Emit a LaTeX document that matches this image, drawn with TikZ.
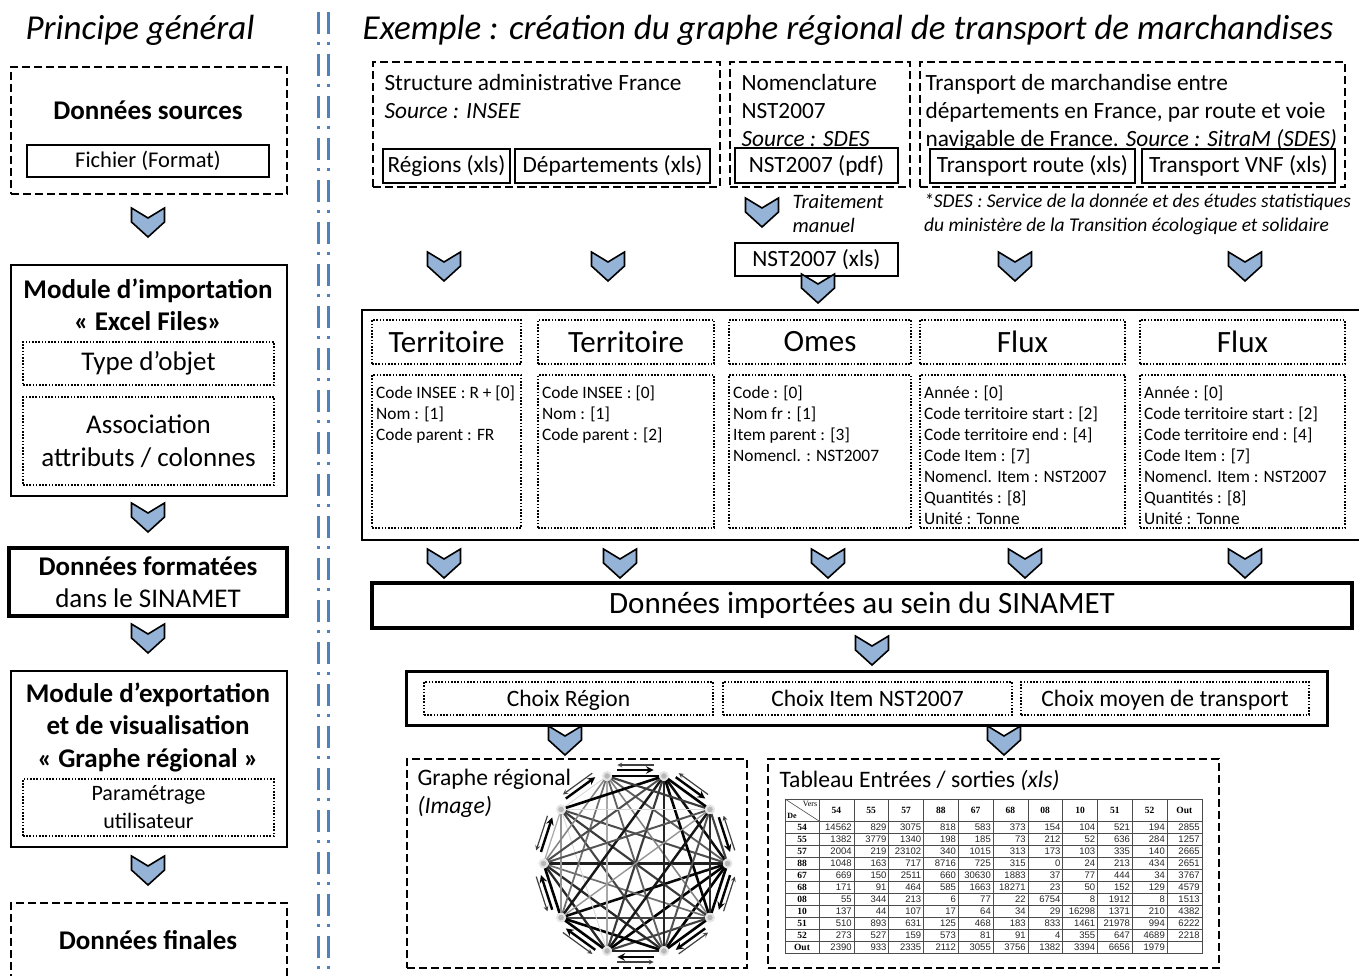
\documentclass[tikz,border=0pt]{standalone}
\usepackage{fontspec}
\setmainfont{Carlito}
\newfontfamily\tabsans{Liberation Sans}
\newfontfamily\tabserif{Liberation Serif}
\usetikzlibrary{fit,calc}
\definecolor{chevblue}{RGB}{149,179,215}
\definecolor{sepblue}{RGB}{79,129,189}
\newcommand{\fsz}[2]{\fontsize{#1}{#2}\selectfont}
\def\tabrows{{54,14562,829,3075,818,583,373,154,104,521,194,2855},
{55,1382,3779,1340,198,185,73,212,52,636,284,1257},
{57,2004,219,23102,340,1015,313,173,103,335,140,2665},
{88,1048,163,717,8716,725,315,0,24,213,434,2651},
{67,669,150,2511,660,30630,1883,37,77,444,34,3767},
{68,171,91,464,585,1663,18271,23,50,152,129,4579},
{08,55,344,213,6,77,22,6754,8,1912,8,1513},
{10,137,44,107,17,64,34,29,16298,1371,210,4382},
{51,510,893,631,125,468,183,833,1461,21978,994,6222},
{52,273,527,159,573,81,91,4,355,647,4689,2218},
{Out,2390,933,2335,2112,3055,3756,1382,3394,6656,1979}}
\tikzset{
  chev/.pic={\draw[fill=chevblue,line width=1.6pt,line join=miter]
    (-16.5,-14) -- (0,-4) -- (16.5,-14) -- (16.5,0) -- (0,15) -- (-16.5,0) -- cycle;},
  plainbox/.style={draw, line width=2.2pt, inner sep=0pt},
  thinbox/.style={draw, line width=1.6pt, inner sep=0pt},
  heavybox/.style={draw, line width=4pt, inner sep=0pt},
  dashbox/.style={draw, line width=2.6pt, dash pattern=on 8pt off 4pt, inner sep=0pt},
  dotbox/.style={draw, line width=2.4pt, dash pattern=on 1.6pt off 1.6pt, inner sep=0pt},
  sepline/.style={sepblue, line width=3pt, dash pattern=on 22pt off 8pt on 3pt off 9pt},
  bodytxt/.style={anchor=north west, align=left, font=\fsz{17.4}{21}, inner sep=2pt},
  tabline/.style={black!70, line width=0.6pt},
  tabhead/.style={font=\tabserif\bfseries\fsz{9.5}{11}, inner sep=0pt},
  tabnum/.style={font=\tabsans\fsz{9.5}{11}, text=black!85, inner sep=0pt, anchor=east},
  gnode/.style={circle, fill=black!28, draw=black!10, line width=2pt, minimum size=8pt, inner sep=0pt},
}
\begin{document}
\begin{tikzpicture}[x=1pt, y=-1pt]
\useasboundingbox (0,0) rectangle (1359,976);

% principe general
\node[font=\itshape\fsz{35}{40}] (lefttitle) at (140,30) {Principe général};
\node[dashbox, fit={(11,67)(287,194)}] (src) {};
\node[font=\bfseries\fsz{27}{30}] (srctxt) at (148,110) {Données sources};
\node[thinbox, fit={(27,145)(269,177)}] (srcfile) {};
\node[font=\fsz{22.5}{24}] (srcfile-t) at (srcfile.center) {Fichier (Format)};
\pic at (148,222) {chev};
\node[plainbox, fit={(11,265)(287,496)}] (imp) {};
\node[font=\bfseries\fsz{27}{32}, align=center] (imptxt) at (148,305) {Module d’importation\\« Excel Files»};
\node[dotbox, fit={(23,342)(274,385)}] (imptype) {};
\node[font=\fsz{27}{30}] (imptype-t) at (imptype.center) {Type d’objet};
\node[dotbox, fit={(23,397)(274,485)}] (impassoc) {};
\node[font=\fsz{27}{33}, align=center] (impassoc-t) at (impassoc.center) {Association\\attributs / colonnes};
\pic at (148,517) {chev};
\node[heavybox, fit={(9,548)(287,616)}] (fmt) {};
\node[font=\fsz{27}{32}, align=center] (fmt-t) at (fmt.center) {\textbf{Données formatées}\\dans le SINAMET};
\pic at (148,638) {chev};
\node[plainbox, fit={(11,671)(287,847)}] (exp) {};
\node[font=\bfseries\fsz{27}{32.5}, align=center] (exptxt) at (148,727) {Module d’exportation\\et de visualisation\\« Graphe régional »};
\node[dotbox, fit={(23,779)(274,836)}] (param) {};
\node[font=\fsz{22}{28}, align=center] (param-t) at (param.center) {Paramétrage\\utilisateur};
\pic at (148,870) {chev};
\node[dashbox, fit={(11,903)(287,1000)}] (fin) {};
\node[font=\bfseries\fsz{27}{30}] (fintxt) at (148,940) {Données finales};

\draw[sepline] (318,12) -- (318,990);
\draw[sepline] (328,12) -- (328,990);

% exemple
\node[font=\itshape\fsz{35}{40}] (righttitle) at (848,30) {Exemple : création du graphe régional de transport de marchandises};

\node[dashbox, fit={(373,62)(720,187)}] (admin) {};
\node[anchor=north west, align=left, font=\fsz{23.3}{28}] (admintxt) at (381,71) {Structure administrative France\\\textit{Source : INSEE}};
\node[thinbox, fit={(383,149)(510,183)}] (reg) {};
\node[font=\fsz{23.3}{24}] (reg-t) at (reg.center) {Régions (xls)};
\node[thinbox, fit={(515,149)(710,183)}] (dep) {};
\node[font=\fsz{23.3}{24}] (dep-t) at (dep.center) {Départements (xls)};

\node[dashbox, fit={(730,62)(910,187)}] (nomen) {};
\node[anchor=north west, align=left, font=\fsz{23.3}{28}] (nomentxt) at (738,71) {Nomenclature\\NST2007\\\textit{Source : SDES}};
\node[thinbox, fit={(735,148)(898,183)}, fill=white] (nstpdf) {};
\node[font=\fsz{23.3}{24}] (nstpdf-t) at (nstpdf.center) {NST2007 (pdf)};

\node[dashbox, fit={(920,62)(1345,187)}] (trans) {};
\node[anchor=north west, align=left, font=\fsz{23.3}{28}] (transtxt) at (922,71) {Transport de marchandise entre\\départements en France, par route et voie\\navigable de France. \textit{Source : SitraM (SDES)}};
\node[thinbox, fit={(930,149)(1135,183)}, fill=white] (troute) {};
\node[font=\fsz{23.3}{24}] (troute-t) at (troute.center) {Transport route (xls)};
\node[thinbox, fit={(1142,149)(1335,183)}, fill=white] (tvnf) {};
\node[font=\fsz{23.3}{24}] (tvnf-t) at (tvnf.center) {Transport VNF (xls)};

\node[anchor=north west, align=left, font=\itshape\fsz{19.5}{24}, inner sep=2pt] (note) at (922,191) {*SDES : Service de la donnée et des études statistiques\\du ministère de la Transition écologique et solidaire};

\pic at (762,212) {chev};
\node[anchor=west, font=\itshape\fsz{20.5}{24}, align=left] (manuel) at (789,214) {Traitement\\manuel};
\node[thinbox, fit={(735,243)(898,276)}] (nstxls) {};
\node[font=\fsz{23.3}{24}] (nstxls-t) at (nstxls.center) {NST2007 (xls)};
\foreach \cx in {444,608,1015,1245} \pic at (\cx,266) {chev};
\pic at (818,288) {chev};

\node[plainbox, line width=2.6pt, fit={(362,310)(1366,540)}] (objets) {};
\foreach \xa/\xb/\hd/\nm in {372/521/Territoire/terA, 538/714/Territoire/terB, 729/911/Omes/omes, 920/1125/Flux/fluxA, 1140/1345/Flux/fluxB} {
  \node[dotbox, fit={(\xa,320)(\xb,364)}] (\nm-head) {};
  \node[font=\fsz{31}{32}] (\nm-hd) at (\nm-head.center) {\hd};
  \node[dotbox, fit={(\xa,375)(\xb,528)}] (\nm-body) {};
}
\node[bodytxt] (terA-txt) at (374,384) {Code INSEE : R + [0]\\Nom : [1]\\Code parent : FR};
\node[bodytxt] (terB-txt) at (540,384) {Code INSEE : [0]\\Nom : [1]\\Code parent : [2]};
\node[bodytxt] (omes-txt) at (731,384) {Code : [0]\\Nom fr : [1]\\Item parent : [3]\\Nomencl. : NST2007};
\node[bodytxt] (fluxA-txt) at (922,384) {Année  : [0]\\Code territoire start : [2]\\Code territoire end : [4]\\Code Item : [7]\\Nomencl. Item : NST2007\\Quantités : [8]\\Unité : Tonne};
\node[bodytxt] (fluxB-txt) at (1142,384) {Année  : [0]\\Code territoire start : [2]\\Code territoire end : [4]\\Code Item : [7]\\Nomencl. Item : NST2007\\Quantités : [8]\\Unité : Tonne};

\foreach \cx in {444,620,828,1025,1245} \pic at (\cx,563) {chev};
\node[heavybox, fit={(372,583)(1352,628)}] (sinamet) {};
\node[font=\fsz{31}{32}] (sinamet-t) at (sinamet.center) {Données importées au sein du SINAMET};
\pic at (872,650) {chev};

\node[plainbox, line width=3pt, fit={(406,671)(1327,725)}] (choix) {};
\foreach \xa/\xb/\ch/\nm in {424/713/Choix Région/choixreg, 723/1012/Choix Item NST2007/choixnst, 1021/1309/Choix moyen de transport/choixmoy} {
  \node[dotbox, fit={(\xa,682)(\xb,715)}] (\nm) {};
  \node[font=\fsz{23.5}{24}, yshift=-3pt] (\nm-t) at (\nm.center) {\strut\ch};
}
\pic at (565,740) {chev};
\pic at (1004,740) {chev};

% graphe regional
\node[dashbox, fit={(407,759)(747,968)}] (graphe) {};
\node[anchor=north west, align=left, font=\fsz{23.6}{28}] (graphetxt) at (414,766) {Graphe régional\\\textit{(Image)}};
\coordinate (gc) at (635.5,863.5);
\foreach \k in {0,...,9} \node[gnode] (g\k) at ($(gc)+(\k*36:92)$) {};
\foreach \row [count=\i from 0] in \tabrows {
  \foreach \v [count=\j from -1] in \row {
    \ifnum\i<\j \ifnum\j<10
      \pgfmathtruncatemacro\sh{max(15,min(100,(ln(\v+1)-1.5)*20))}
      \pgfmathsetmacro\lw{0.6+\sh/50}
      \draw[black!\sh, line width=\lw pt] (g\i) -- (g\j);
    \fi\fi
  }
}
\foreach \k in {0,...,9} {
  \pgfmathtruncatemacro\n{mod(\k+1,10)}
  \draw[->, >=stealth, line width=2.4pt] ($(g\k)!0.18!(g\n)+(\k*36+18:6)$) -- ($(g\k)!0.82!(g\n)+(\k*36+18:6)$);
  \draw[<-, >=stealth, line width=1.2pt, black!75] ($(g\k)!0.18!(g\n)+(\k*36+18:11)$) -- ($(g\k)!0.82!(g\n)+(\k*36+18:11)$);
}

% tableau entrees / sorties
\node[dashbox, fit={(768,759)(1219,968)}] (tableau) {};
\node[anchor=west, font=\fsz{23.6}{24}] (tableautxt) at (776,780) {Tableau Entrées / sorties \textit{(xls)}};
\draw[tabline] (785,799) -- (1202.8,799);
\foreach \r in {0,...,11} \draw[tabline] (785,{821+12*\r}) -- (1202.8,{821+12*\r});
\draw[tabline] (785,799) -- (785,953);
\foreach \c in {0,...,11} \draw[tabline] ({819+34.8*\c},799) -- ({819+34.8*\c},953);
\draw[tabline] (785,799) -- (819,821);
\node[font=\tabserif\fsz{8}{8}, inner sep=0pt] (vers) at (810,803.5) {Vers};
\node[font=\tabserif\bfseries\fsz{8}{8}, inner sep=0pt] (de) at (792,816) {De};
\foreach \h [count=\ci] in {54,55,57,88,67,68,08,10,51,52,Out}
  \node[tabhead] (th-\ci) at ({819+34.8*\ci-17.4},810) {\h};
\foreach \row [count=\ri] in \tabrows {
  \foreach \v [count=\ci] in \row {
    \ifnum\ci=1
      \node[tabhead] (tr-\ri) at (802,{815+12*\ri}) {\v};
    \else
      \node[tabnum] (tv-\ri-\ci) at ({819+34.8*(\ci-1)-2},{815.5+12*\ri}) {\v};
    \fi
  }
}
\end{tikzpicture}
\end{document}
